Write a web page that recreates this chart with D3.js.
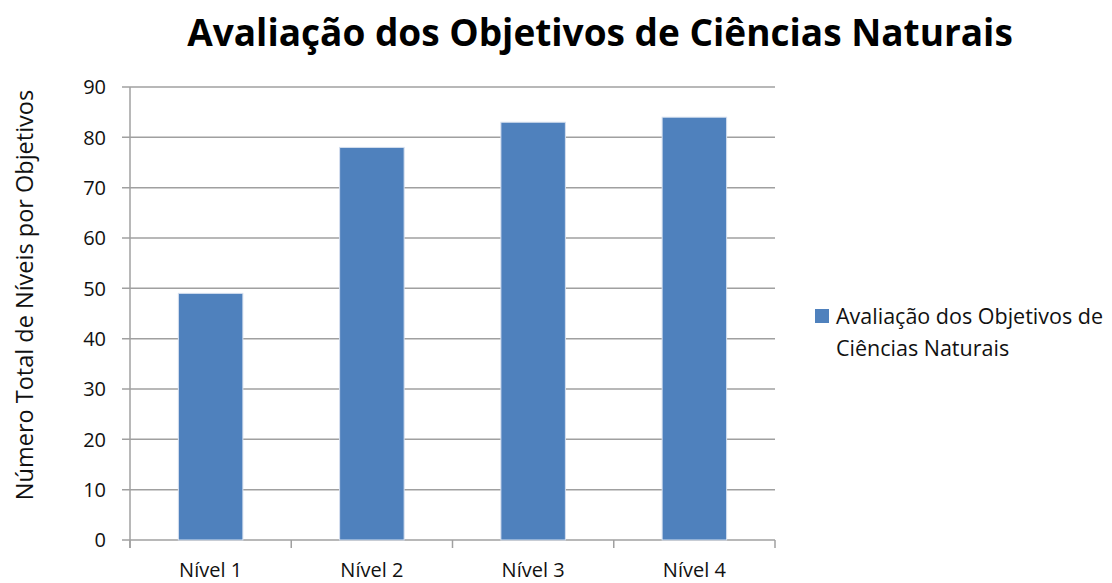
<!DOCTYPE html>
<html><head><meta charset="utf-8">
<script src="https://cdn.jsdelivr.net/npm/d3@7"></script>
<style>body{margin:0;background:#fff;}svg{display:block;}</style>
</head><body>
<svg id="c" width="1112" height="583"></svg>
<script>
const categories = ["Nível 1", "Nível 2", "Nível 3", "Nível 4"];
const values = [49, 78, 83, 84];
const yTicks = [0, 10, 20, 30, 40, 50, 60, 70, 80, 90];
const title = "Avaliação dos Objetivos de Ciências Naturais";
const yLabel = "Número Total de Níveis por Objetivos";
const legendLines = ["Avaliação dos Objetivos de", "Ciências Naturais"];

(function () {
const font = "'Open Sans', 'DejaVu Sans', sans-serif";
const svg = d3.select("#c");
const pL = 130, pR = 775, pT = 87, pB = 540;
const x = d3.scaleBand().domain(categories).range([pL, pR]).paddingInner(0.6).paddingOuter(0.3);
const xb = d3.scaleBand().domain(categories).range([pL, pR]);
const y = d3.scaleLinear().domain([0, 90]).range([pB, pT]);
const grid = "#a0a0a0";

svg.append("g").selectAll("line").data(yTicks).join("line")
  .attr("x1", pL - 8).attr("x2", pR).attr("y1", d => y(d)).attr("y2", d => y(d))
  .attr("stroke", grid).attr("stroke-width", 1.5);
svg.append("line").attr("x1", pL).attr("x2", pL).attr("y1", pT).attr("y2", pB + 8)
  .attr("stroke", grid).attr("stroke-width", 1.5);
const xt = categories.map(c => xb(c)).concat([pR]);
svg.append("g").selectAll("line").data(xt).join("line")
  .attr("x1", d => d).attr("x2", d => d).attr("y1", pB).attr("y2", pB + 8)
  .attr("stroke", grid).attr("stroke-width", 1.5);

svg.append("g").selectAll("rect").data(values).join("rect")
  .attr("x", (d, i) => x(categories[i])).attr("width", x.bandwidth())
  .attr("y", d => y(d)).attr("height", d => y(0) - y(d))
  .attr("fill", "#4f81bd").attr("stroke", "#d6e0ef").attr("stroke-width", 1);

svg.append("g").selectAll("text").data(yTicks).join("text")
  .attr("x", 106).attr("y", d => y(d)).attr("dy", "0.36em").attr("text-anchor", "end")
  .attr("font-family", font).attr("font-size", 20).attr("fill", "#111").text(d => d);
svg.append("g").selectAll("text").data(categories).join("text")
  .attr("x", d => xb(d) + xb.bandwidth() / 2).attr("y", 577).attr("text-anchor", "middle")
  .attr("font-family", font).attr("font-size", 20).attr("fill", "#111").text(d => d);

svg.append("text").attr("x", 600).attr("y", 46).attr("text-anchor", "middle")
  .attr("font-family", font).attr("font-weight", "bold").attr("font-size", 37).attr("fill", "#000").text(title);

svg.append("text").attr("transform", "translate(25,295) rotate(-90)").attr("dy", "0.36em")
  .attr("text-anchor", "middle").attr("font-family", font).attr("font-size", 23.5).attr("fill", "#111").text(yLabel);

svg.append("rect").attr("x", 815).attr("y", 309).attr("width", 14).attr("height", 14).attr("fill", "#4f81bd");
svg.append("g").selectAll("text").data(legendLines).join("text")
  .attr("x", 836).attr("y", (d, i) => 316 + i * 32).attr("dy", "0.36em")
  .attr("font-family", font).attr("font-size", 21.5).attr("fill", "#111").text(d => d);
})();
</script>
</body></html>
